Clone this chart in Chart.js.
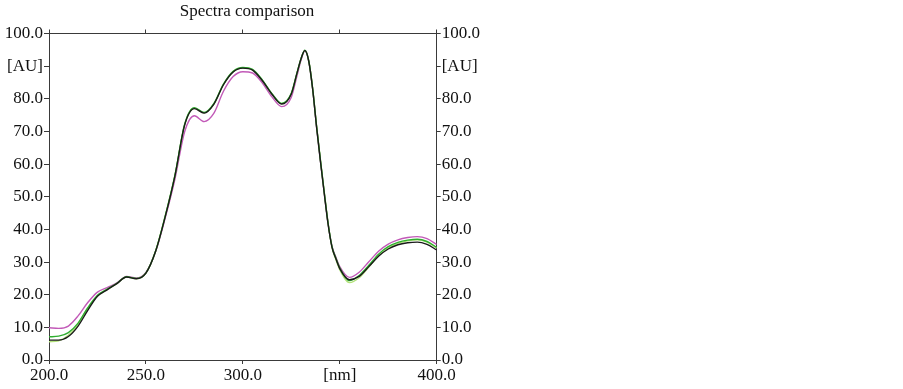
<!DOCTYPE html>
<html>
<head>
<meta charset="utf-8">
<script src="https://cdn.jsdelivr.net/npm/chart.js@4/dist/chart.umd.min.js"></script>
<style>
html,body{margin:0;padding:0;background:#fff;}
#wrap{width:903px;height:389px;position:relative;}
</style>
</head>
<body>
<div id="wrap"><canvas id="c" width="903" height="389"></canvas></div>
<script>
const title = "Spectra comparison";
const wavelengths = [200,205,210,215,220,225,230,235,240,245,250,255,260,265,270,275,280,285,290,295,300,305,310,315,320,325,328,330,332,334,336,338,340,342,344,346,348,350,355,360,365,370,375,380,385,390,395,400];
const blackSeries = [6.1,6.1,7.2,10.4,15.2,19.5,21.5,23.4,25.4,24.9,26.6,33.3,44.0,56.5,72.0,77.0,75.6,78.3,84.3,88.2,89.4,88.8,85.6,81.4,78.4,81.5,88.0,92.2,94.8,91.5,83.0,71.5,61.0,51.0,41.5,34.5,31.0,28.0,24.6,25.6,28.6,31.8,34.0,35.3,35.9,36.1,35.4,33.7];
const greenSeries = [7.1,7.3,8.4,11.3,16.0,19.8,21.7,23.5,25.5,25.0,26.7,33.4,44.2,56.7,72.3,77.3,75.8,78.5,84.5,88.4,89.6,89.0,85.8,81.6,78.6,81.7,88.1,92.3,94.9,91.6,83.2,71.8,61.3,51.3,41.8,34.7,31.2,28.2,24.3,25.9,29.0,32.4,34.7,36.0,36.7,37.0,36.3,34.5];
const lightGreenSeries = [5.6,5.9,7.6,11.0,15.8,19.6,21.6,23.4,25.4,24.9,26.6,33.4,44.2,56.6,72.1,77.1,75.7,78.4,84.4,88.3,89.5,88.9,85.7,81.5,78.5,81.6,88.0,92.2,94.8,91.6,83.3,71.9,61.4,51.4,41.8,34.4,30.7,27.6,23.7,25.2,28.5,31.9,34.3,35.7,36.5,36.8,36.1,34.3];
const magentaSeries = [9.9,9.7,10.4,13.5,17.6,20.8,22.2,23.6,25.6,25.1,26.8,33.2,43.6,55.5,70.0,74.8,73.0,75.5,82.3,86.8,88.3,87.9,84.9,80.6,77.6,80.5,87.2,91.8,94.7,91.5,83.0,71.5,61.0,51.0,41.6,34.8,31.5,28.6,25.3,26.9,30.1,33.3,35.5,36.8,37.5,37.8,37.2,35.4];
const xTicks = [200,250,300,350,400];
const xTickLabels = ["200.0","250.0","300.0","[nm]","400.0"];
const yTicks = [0,10,20,30,40,50,60,70,80,90,100];
const yTickLabels = ["0.0","10.0","20.0","30.0","40.0","50.0","60.0","70.0","80.0","[AU]","100.0"];

function pts(arr){ return wavelengths.map((w,i)=>({x:w,y:arr[i]})); }

const FONT = {family:"'Liberation Serif','Times New Roman',serif", size:17};
const AXIS_COLOR = '#3a3a3a';

function xLabel(v){ const i = xTicks.indexOf(v); return i>=0 ? xTickLabels[i] : ''; }
function yLabel(v){ const i = yTicks.indexOf(v); return i>=0 ? yTickLabels[i] : ''; }

const titlePlugin = {
  id:'customTitle',
  afterDraw(chart){
    const ctx = chart.ctx;
    ctx.save();
    ctx.font = "17px 'Liberation Serif', serif";
    ctx.fillStyle = '#111';
    ctx.textAlign = 'center';
    ctx.textBaseline = 'middle';
    ctx.fillText(title, 247, 12);
    ctx.restore();
  }
};

const ds = (label, arr, color, width) => ({
  label, data: pts(arr), borderColor: color, backgroundColor: color,
  borderWidth: width, pointRadius: 0, tension: 0.4, fill: false, cubicInterpolationMode: 'monotone'
});

new Chart(document.getElementById('c'), {
  type: 'line',
  data: {
    datasets: [
      ds('black', blackSeries, '#1a1a1a', 1.4),
      ds('green', greenSeries, '#2fae2f', 1.4),
      ds('lightgreen', lightGreenSeries, '#b2e27a', 1.4),
      ds('magenta', magentaSeries, '#c25ab8', 1.4)
    ]
  },
  options: {
    responsive: false,
    animation: false,
    layout: {padding: 0},
    plugins: {legend:{display:false}, tooltip:{enabled:false}, title:{display:false}},
    scales: {
      x: {
        type:'linear', position:'bottom', min:200, max:400,
        afterBuildTicks: s => { s.ticks = xTicks.map(v=>({value:v})); },
        afterFit: s => { s.height = 29; },
        ticks: {callback: v => xLabel(v), font: FONT, color:'#111', padding:1, maxRotation:0, autoSkip:false},
        grid: {drawOnChartArea:false, drawTicks:true, tickLength:4, color:AXIS_COLOR},
        border: {display:true, color:AXIS_COLOR, width:1}
      },
      x2: {
        type:'linear', position:'top', min:200, max:400,
        afterBuildTicks: s => { s.ticks = xTicks.map(v=>({value:v})); },
        afterFit: s => { s.height = 33.5; },
        ticks: {callback: () => '', font: FONT},
        grid: {drawOnChartArea:false, drawTicks:true, tickLength:4, color:AXIS_COLOR},
        border: {display:true, color:AXIS_COLOR, width:1}
      },
      y: {
        type:'linear', position:'left', min:0, max:100,
        afterBuildTicks: s => { s.ticks = yTicks.map(v=>({value:v})); },
        afterFit: s => { s.width = 49; },
        ticks: {callback: v => yLabel(v), font: FONT, color:'#111', padding:1, autoSkip:false},
        grid: {drawOnChartArea:false, drawTicks:true, tickLength:5, color:AXIS_COLOR},
        border: {display:true, color:AXIS_COLOR, width:1}
      },
      y2: {
        type:'linear', position:'right', min:0, max:100,
        afterBuildTicks: s => { s.ticks = yTicks.map(v=>({value:v})); },
        afterFit: s => { s.width = 466.3; },
        ticks: {callback: v => yLabel(v), font: FONT, color:'#111', padding:1, autoSkip:false},
        grid: {drawOnChartArea:false, drawTicks:true, tickLength:4, color:AXIS_COLOR},
        border: {display:true, color:AXIS_COLOR, width:1}
      }
    }
  },
  plugins: [titlePlugin]
});
</script>
</body>
</html>
